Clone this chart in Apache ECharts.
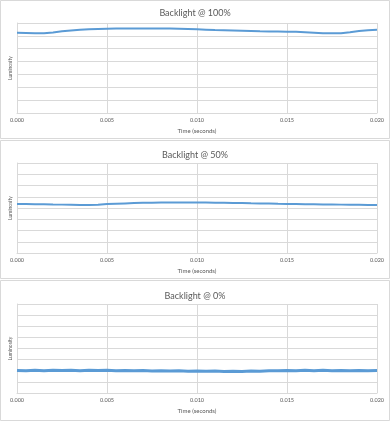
<!DOCTYPE html>
<html>
<head>
<meta charset="utf-8">
<script src="https://cdn.jsdelivr.net/npm/echarts@6/dist/echarts.min.js"></script>
<style>html,body{margin:0;padding:0;background:#fff;}#c{width:390px;height:421px;}</style>
</head>
<body>
<div id="c"></div>
<script>
var titles = ["Backlight @ 100%", "Backlight @ 50%", "Backlight @ 0%"];
var xTicks = [0.000, 0.005, 0.010, 0.015, 0.020];
var timeS = [0.0000,0.0005,0.0010,0.0015,0.0020,0.0025,0.0030,0.0035,0.0040,0.0045,
             0.0050,0.0055,0.0060,0.0065,0.0070,0.0075,0.0080,0.0085,0.0090,0.0095,
             0.0100,0.0105,0.0110,0.0115,0.0120,0.0125,0.0130,0.0135,0.0140,0.0145,
             0.0150,0.0155,0.0160,0.0165,0.0170,0.0175,0.0180,0.0185,0.0190,0.0195,0.0200];
var lum100 = [6.25,6.23,6.21,6.20,6.27,6.35,6.42,6.47,6.51,6.54,
              6.56,6.57,6.58,6.58,6.58,6.58,6.57,6.57,6.55,6.53,
              6.51,6.48,6.45,6.43,6.41,6.39,6.37,6.35,6.34,6.33,
              6.32,6.31,6.29,6.25,6.21,6.20,6.20,6.28,6.38,6.44,6.48];
var lum50 = [4.36,4.35,4.34,4.33,4.31,4.30,4.28,4.26,4.26,4.29,
             4.35,4.38,4.41,4.44,4.46,4.47,4.48,4.49,4.49,4.49,
             4.49,4.48,4.47,4.46,4.45,4.44,4.42,4.41,4.39,4.37,
             4.36,4.35,4.34,4.33,4.32,4.31,4.30,4.29,4.28,4.27,4.26];
var lum0 = [2.03,2.00,2.04,2.01,2.05,2.02,2.04,2.01,2.05,2.02,
            2.04,2.01,2.03,2.00,2.02,1.98,2.00,1.97,1.99,1.96,
            1.98,1.95,1.97,1.94,1.96,1.94,1.97,1.96,2.00,1.99,
            2.03,2.01,2.04,2.01,2.04,2.01,2.03,2.00,2.03,2.01,2.02];
var yMax = [7, 8, 8];
var seriesData = [lum100, lum50, lum0];

var gridTops = [23, 163, 304];
var gridHeights = [90, 90, 89];
var titleTops = [4, 146, 287];
var txt = '#595959';
var gridCol = '#d9d9d9';
var font = 'Lato, "Open Sans", sans-serif';

var option = {
  animation: false,
  backgroundColor: '#ffffff',
  title: [], grid: [], xAxis: [], yAxis: [], series: [],
  graphic: [
    {type:'rect', shape:{x:0.5,y:0.5,width:389,height:138}, style:{fill:'none',stroke:gridCol,lineWidth:1}},
    {type:'rect', shape:{x:0.5,y:140.5,width:389,height:138}, style:{fill:'none',stroke:gridCol,lineWidth:1}},
    {type:'rect', shape:{x:0.5,y:280.5,width:389,height:140}, style:{fill:'none',stroke:gridCol,lineWidth:1}}
  ]
};

for (var i = 0; i < 3; i++) {
  option.title.push({
    text: titles[i], left: 'center', top: titleTops[i],
    textStyle: {fontFamily: font, fontSize: 9, fontWeight: 'normal', color: txt}
  });
  option.grid.push({left: 17, right: 13, top: gridTops[i], height: gridHeights[i]});
  option.xAxis.push({
    type: 'value', gridIndex: i, min: xTicks[0], max: xTicks[xTicks.length-1], interval: 0.005,
    name: 'Time (seconds)', nameLocation: 'middle', nameGap: 15,
    nameTextStyle: {fontFamily: font, fontSize: 6, color: txt},
    axisLine: {show: true, lineStyle: {color: gridCol}},
    axisTick: {show: false},
    axisLabel: {fontFamily: font, fontSize: 5.5, color: txt, margin: 4,
      formatter: function(v){ return v.toFixed(3); }},
    splitLine: {show: true, lineStyle: {color: gridCol, width: 1}}
  });
  option.yAxis.push({
    type: 'value', gridIndex: i, min: 0, max: yMax[i], interval: 1,
    name: 'Luminosity', nameLocation: 'middle', nameGap: 4, nameRotate: 90,
    nameTextStyle: {fontFamily: font, fontSize: 5, color: txt},
    axisLine: {show: true, lineStyle: {color: gridCol}},
    axisTick: {show: false},
    axisLabel: {show: false},
    splitLine: {show: true, lineStyle: {color: gridCol, width: 1}}
  });
  var pts = [];
  for (var k = 0; k < timeS.length; k++) pts.push([timeS[k], seriesData[i][k]]);
  option.series.push({
    type: 'line', xAxisIndex: i, yAxisIndex: i, data: pts,
    showSymbol: false, symbol: 'none',
    lineStyle: {color: '#5b9bd5', width: i === 2 ? 3 : 2}
  });
}

var chart = echarts.init(document.getElementById('c'), null, {renderer: 'canvas'});
chart.setOption(option);
</script>
</body>
</html>
